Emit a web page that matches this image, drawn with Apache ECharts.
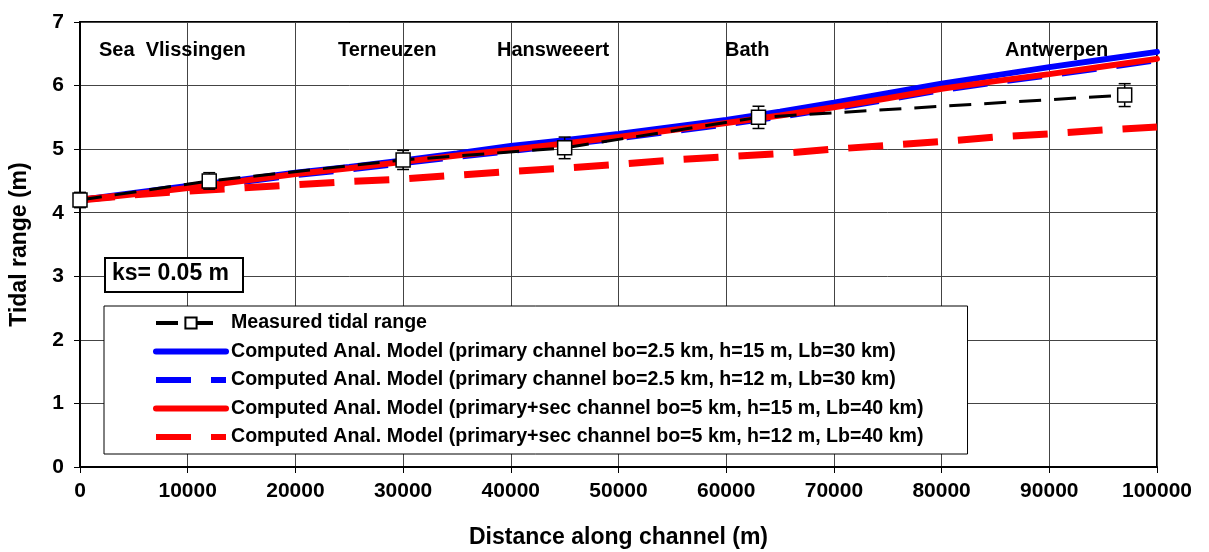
<!DOCTYPE html>
<html>
<head>
<meta charset="utf-8">
<script src="https://cdn.jsdelivr.net/npm/echarts@6/dist/echarts.min.js"></script>
<style>
html,body{margin:0;padding:0;background:#fff;}
#chart{width:1209px;height:552px;}
</style>
</head>
<body>
<div id="chart"></div>
<script>
// ---- data ----
const modelX = [0,5000,10000,15000,20000,25000,30000,35000,40000,45000,50000,55000,60000,65000,70000,75000,80000,85000,90000,95000,100000];
const blueSolid  = [4.20,4.31,4.42,4.52,4.63,4.72,4.82,4.93,5.05,5.14,5.24,5.35,5.46,5.59,5.73,5.88,6.03,6.16,6.29,6.41,6.53];
const blueDashed = [4.20,4.28,4.38,4.48,4.59,4.68,4.78,4.88,4.97,5.07,5.17,5.28,5.39,5.51,5.64,5.78,5.93,6.05,6.16,6.28,6.40];
const redSolid   = [4.20,4.29,4.39,4.50,4.61,4.70,4.80,4.90,4.99,5.09,5.19,5.30,5.41,5.53,5.66,5.80,5.95,6.07,6.18,6.30,6.42];
const redDashed  = [4.20,4.28,4.34,4.39,4.44,4.49,4.53,4.59,4.65,4.70,4.76,4.83,4.88,4.93,5.00,5.06,5.12,5.19,5.24,5.30,5.35];
const measuredX   = [0,12000,30000,45000,63000,97000];
const measuredY   = [4.20,4.50,4.83,5.02,5.50,5.85];
const measuredErr = [0.12,0.13,0.15,0.17,0.175,0.18];
const seriesNames = [
  'Measured tidal range',
  'Computed Anal. Model (primary channel bo=2.5 km, h=15 m, Lb=30 km)',
  'Computed Anal. Model (primary channel bo=2.5 km, h=12 m, Lb=30 km)',
  'Computed Anal. Model (primary+sec channel bo=5 km, h=15 m, Lb=40 km)',
  'Computed Anal. Model (primary+sec channel bo=5 km, h=12 m, Lb=40 km)'
];
const placeNames = ['Sea  Vlissingen','Terneuzen','Hansweeert','Bath','Antwerpen'];
const placeX = [99,338,497,725,1005];
const ksLabel = 'ks= 0.05 m';
const xTitle = 'Distance along channel (m)';
const yTitle = 'Tidal range (m)';

// ---- build ----
const FONT = "'Liberation Sans', Arial, sans-serif";
const pair = (xs, ys) => xs.map((x, i) => [x, ys[i]]);
const measured = pair(measuredX, measuredY);
const errData = measuredX.map((x, i) => [x, measuredY[i], measuredErr[i]]);

const chart = echarts.init(document.getElementById('chart'), null, {renderer: 'canvas'});

const lineSeries = (name, ys, color, width, dash, z) => ({
  name, type: 'line', data: pair(modelX, ys), symbol: 'none', z,
  lineStyle: {color, width, type: dash || 'solid', cap: dash ? 'butt' : 'round'},
  itemStyle: {color}
});

const option = {
  animation: false,
  backgroundColor: '#fff',
  grid: {left: 80, right: 52, top: 22, bottom: 85, containLabel: false, outerBoundsMode: 'none',
         show: true, borderColor: '#000', borderWidth: 2, backgroundColor: 'transparent'},
  xAxis: {
    type: 'value', min: 0, max: 100000, interval: 10000,
    name: xTitle, nameLocation: 'middle', nameGap: 59,
    nameTextStyle: {fontFamily: FONT, fontWeight: 'bold', fontSize: 23, color: '#000'},
    axisLine: {show: true, lineStyle: {color: '#000', width: 2}},
    axisTick: {show: true, length: 6, lineStyle: {color: '#000', width: 1}},
    axisLabel: {fontFamily: FONT, fontWeight: 'bold', fontSize: 21, color: '#000', margin: 14,
                formatter: v => String(v)},
    splitLine: {show: true, lineStyle: {color: '#444', width: 1}}
  },
  yAxis: {
    type: 'value', min: 0, max: 7, interval: 1,
    name: yTitle, nameLocation: 'middle', nameGap: 49, nameRotate: 90,
    nameTextStyle: {fontFamily: FONT, fontWeight: 'bold', fontSize: 23, color: '#000'},
    axisLine: {show: true, lineStyle: {color: '#000', width: 2}},
    axisTick: {show: true, length: 6, lineStyle: {color: '#000', width: 1}},
    axisLabel: {fontFamily: FONT, fontWeight: 'bold', fontSize: 21, color: '#000', margin: 16},
    splitLine: {show: true, lineStyle: {color: '#444', width: 1}}
  },
  legend: {
    orient: 'vertical', left: 104, top: 306,
    padding: [7, 44, 7, 49],
    backgroundColor: '#fff', borderColor: '#000', borderWidth: 1,
    itemWidth: 70, itemHeight: 14, itemGap: 8.5,
    textStyle: {fontFamily: FONT, fontWeight: 'bold', fontSize: 19.6, color: '#000', lineHeight: 19},
    data: [
      {name: seriesNames[0], lineStyle: {width: 4}},
      {name: seriesNames[1], lineStyle: {width: 6}, itemStyle: {opacity: 0}},
      {name: seriesNames[2], lineStyle: {width: 6}, itemStyle: {opacity: 0}},
      {name: seriesNames[3], lineStyle: {width: 6}, itemStyle: {opacity: 0}},
      {name: seriesNames[4], lineStyle: {width: 6}, itemStyle: {opacity: 0}}
    ]
  },
  series: [
    lineSeries(seriesNames[1], blueSolid, '#0000ff', 6, null, 2),
    lineSeries(seriesNames[2], blueDashed, '#0000ff', 6, [35, 20], 2),
    lineSeries(seriesNames[3], redSolid, '#ff0000', 6, null, 2),
    lineSeries(seriesNames[4], redDashed, '#ff0000', 7, [35, 20], 2),
    {
      name: 'errorbars', type: 'custom', z: 4, clip: false,
      data: errData,
      renderItem: function (params, api) {
        const x = api.value(0), y = api.value(1), e = api.value(2);
        const t = api.coord([x, y + e]);
        const b = api.coord([x, y - e]);
        const hw = 6;
        const st = {stroke: '#000', lineWidth: 1.5};
        return {type: 'group', children: [
          {type: 'line', shape: {x1: t[0], y1: t[1], x2: b[0], y2: b[1]}, style: st},
          {type: 'line', shape: {x1: t[0] - hw, y1: t[1], x2: t[0] + hw, y2: t[1]}, style: st},
          {type: 'line', shape: {x1: b[0] - hw, y1: b[1], x2: b[0] + hw, y2: b[1]}, style: st}
        ]};
      }
    },
    {
      name: seriesNames[0], type: 'line', data: measured, z: 5,
      symbol: 'rect', symbolSize: 14, showAllSymbol: true,
      lineStyle: {color: '#000', width: 3, type: [22, 13]},
      itemStyle: {color: '#fff', borderColor: '#000', borderWidth: 1.5}
    }
  ],
  graphic: [
    ...placeNames.map((t, i) => ({
      type: 'text', left: placeX[i], top: 40, z: 10,
      style: {text: t, font: "bold 20px " + FONT, fill: '#000'}
    })),
    {type: 'rect', left: 104, top: 257, z: 10,
     shape: {width: 138, height: 34}, style: {fill: '#fff', stroke: '#000', lineWidth: 2}},
    {type: 'text', left: 112, top: 262, z: 11,
     style: {text: ksLabel, font: "bold 23px " + FONT, fill: '#000'}}
  ]
};
chart.setOption(option);
</script>
</body>
</html>
